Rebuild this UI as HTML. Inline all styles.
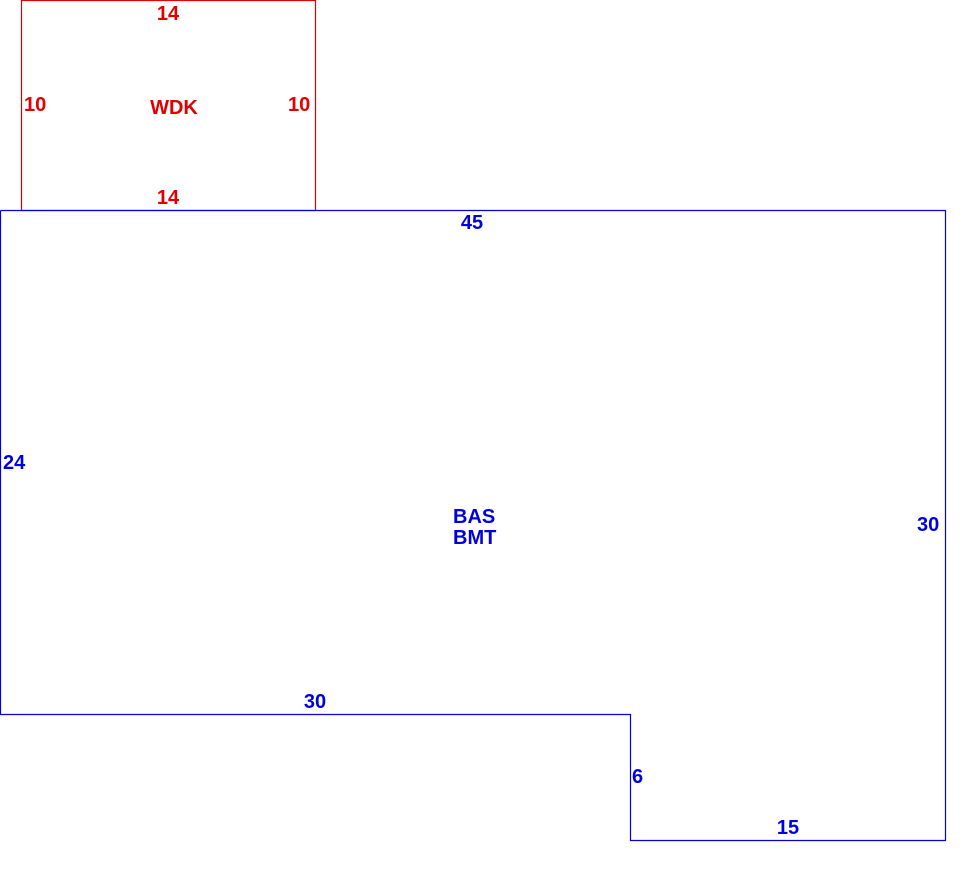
<!DOCTYPE html>
<html><head><style>html,body{margin:0;padding:0;background:#fff;}svg{display:block}</style></head>
<body>
<svg width="980" height="884" xmlns="http://www.w3.org/2000/svg" font-family="Liberation Sans, sans-serif" font-weight="bold" font-size="20">
<rect x="21.5" y="0.5" width="294" height="210" fill="none" stroke="#e00000" stroke-width="1.2"/>
<polyline points="0.5,210.5 945.5,210.5 945.5,840.5 630.5,840.5 630.5,714.5 0.5,714.5 0.5,210.5" fill="none" stroke="#0000e0" stroke-width="1.2"/>
<g fill="#e00000">
<text x="168" y="20" text-anchor="middle">14</text>
<text x="24" y="111">10</text>
<text x="288" y="111">10</text>
<text x="174" y="114" text-anchor="middle">WDK</text>
<text x="168" y="204" text-anchor="middle">14</text>
</g>
<g fill="#0000e0">
<text x="472" y="229" text-anchor="middle">45</text>
<text x="3" y="469">24</text>
<text x="453" y="523">BAS</text>
<text x="453" y="544">BMT</text>
<text x="917" y="531">30</text>
<text x="315" y="708" text-anchor="middle">30</text>
<text x="632" y="783">6</text>
<text x="788" y="834" text-anchor="middle">15</text>
</g>
</svg>
</body></html>
